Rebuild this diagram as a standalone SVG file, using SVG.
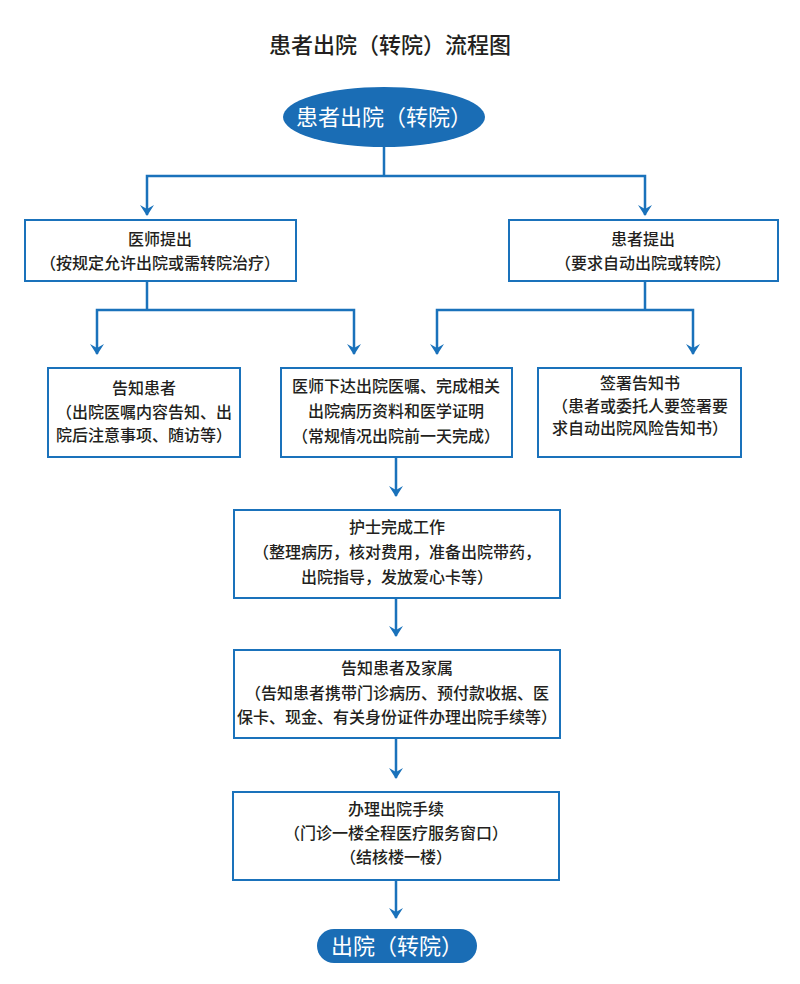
<svg xmlns="http://www.w3.org/2000/svg" width="800" height="984" viewBox="0 0 800 984">
<style>
text{font-family:"Noto Sans CJK SC","Liberation Sans",sans-serif;fill:#231f20;font-size:16px;font-weight:500;text-anchor:middle}
.box{fill:#fff;stroke:#1a72bb;stroke-width:2}
.ln{fill:none;stroke:#1a72bb;stroke-width:2.5}
.w{fill:#fff;font-size:22px;font-weight:400}
</style>
<rect width="800" height="984" fill="#fff"/>
<text x="390" y="53" style="font-size:22px">患者出院（转院）流程图</text>
<g id="connectors">
<path class="ln" d="M384,147V176M147,215V176H645V215"/>
<path class="ln" d="M147,281V310M97,354V310H354V354"/>
<path class="ln" d="M645,281V310M437,354V310H693V354"/>
<path class="ln" d="M396,457V496M396,598V636M396,738V778M396,880V918"/>
<g fill="#1a72bb">
<path d="M140,205L147,216L154,205L147,209Z"/><path d="M638,205L645,216L652,205L645,209Z"/>
<path d="M90,344L97,355L104,344L97,348Z"/><path d="M347,344L354,355L361,344L354,348Z"/>
<path d="M430,344L437,355L444,344L437,348Z"/><path d="M686,344L693,355L700,344L693,348Z"/>
<path d="M389,486L396,497L403,486L396,490Z"/><path d="M389,626L396,637L403,626L396,630Z"/>
<path d="M389,768L396,779L403,768L396,772Z"/><path d="M389,908L396,919L403,908L396,912Z"/>
</g>
</g>
<g id="start"><ellipse cx="384" cy="117" rx="101" ry="30" fill="#1a6db5"/><text class="w" x="384" y="125">患者出院（转院）</text></g>
<g id="doc"><rect class="box" x="25" y="220" width="271" height="61"/><text x="160" y="245">医师提出</text><text x="160" y="269">（按规定允许出院或需转院治疗）</text></g>
<g id="pat"><rect class="box" x="509" y="220" width="269" height="61"/><text x="643" y="245">患者提出</text><text x="643" y="269">（要求自动出院或转院）</text></g>
<g id="tell"><rect class="box" x="48" y="368" width="192" height="89"/><text x="144" y="394">告知患者</text><text x="144" y="418">（出院医嘱内容告知、出</text><text x="144" y="441">院后注意事项、随访等）</text></g>
<g id="order"><rect class="box" x="281" y="368" width="231" height="89"/><text x="396" y="392">医师下达出院医嘱、完成相关</text><text x="396" y="417">出院病历资料和医学证明</text><text x="396" y="442">（常规情况出院前一天完成）</text></g>
<g id="sign"><rect class="box" x="538" y="368" width="203" height="89"/><text x="640" y="389">签署告知书</text><text x="640" y="412">（患者或委托人要签署要</text><text x="640" y="434">求自动出院风险告知书）</text></g>
<g id="nurse"><rect class="box" x="234" y="510" width="326" height="88"/><text x="397" y="533">护士完成工作</text><text x="397" y="558">（整理病历，核对费用，准备出院带药，</text><text x="397" y="583">出院指导，发放爱心卡等）</text></g>
<g id="family"><rect class="box" x="234" y="650" width="326" height="88"/><text x="397" y="674">告知患者及家属</text><text x="397" y="699">（告知患者携带门诊病历、预付款收据、医</text><text x="397" y="723">保卡、现金、有关身份证件办理出院手续等）</text></g>
<g id="proc"><rect class="box" x="233" y="792" width="326" height="88"/><text x="396" y="815">办理出院手续</text><text x="396" y="839">（门诊一楼全程医疗服务窗口）</text><text x="396" y="863">（结核楼一楼）</text></g>
<g id="end"><rect x="317" y="929" width="160" height="34" rx="17" fill="#1a6db5"/><text class="w" x="397" y="954">出院（转院）</text></g>
</svg>
